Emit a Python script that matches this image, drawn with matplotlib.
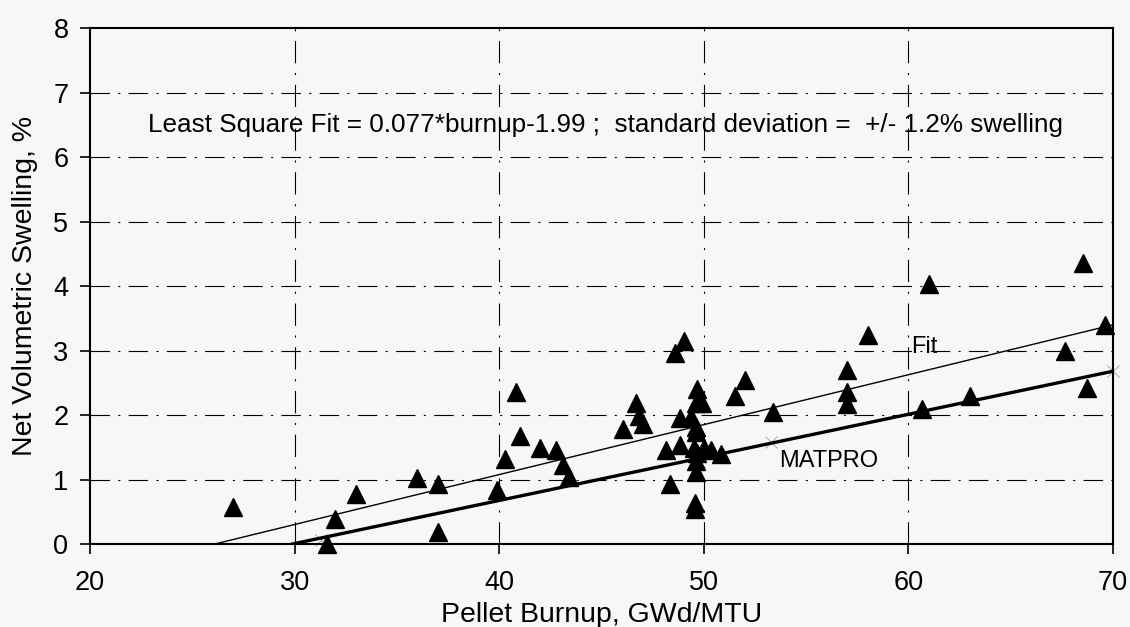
import matplotlib
matplotlib.use("Agg")
import matplotlib.pyplot as plt

plt.rcParams['font.family'] = ['Liberation Sans', 'DejaVu Sans']
plt.rcParams['lines.scale_dashes'] = False

# Measured data (burnup GWd/MTU, net volumetric swelling %)
burnup = [27.0, 31.6, 32.0, 33.0, 36.0, 37.0, 37.0, 39.9, 40.3, 40.8,
          41.0, 42.0, 42.8, 43.1, 43.4, 46.05, 46.7, 46.85, 47.05, 48.15,
          48.35, 48.6, 48.85, 48.85, 49.05, 49.35, 49.5, 49.6, 49.6, 49.6,
          49.6, 49.6, 49.55, 49.55, 49.67, 49.67, 49.92, 50.0, 50.33, 50.86,
          51.5, 52.0, 53.4, 57.0, 57.0, 57.0, 58.0, 60.65, 61.0, 63.0,
          67.63, 68.53, 68.74, 69.62]
swelling = [0.57, 0.0, 0.38, 0.78, 1.03, 0.93, 0.18, 0.83, 1.32, 2.36,
            1.68, 1.49, 1.46, 1.22, 1.04, 1.78, 2.19, 1.98, 1.86, 1.46,
            0.93, 2.96, 1.95, 1.54, 3.15, 1.97, 1.49, 2.18, 1.82, 1.74,
            1.28, 1.11, 0.64, 0.54, 2.41, 1.41, 2.19, 1.49, 1.46, 1.39,
            2.29, 2.55, 2.05, 2.70, 2.35, 2.17, 3.24, 2.09, 4.03, 2.29,
            3.00, 4.36, 2.42, 3.39]

fit_x = [26.1, 70.0]
fit_y = [0.0, 3.40]
matpro_x = [29.9, 70.0]
matpro_y = [0.0, 2.68]
mark_x = [31.3, 53.3, 70.0]
mark_y = [0.06, 1.58, 2.68]

xticks = [20, 30, 40, 50, 60, 70]
yticks = [0, 1, 2, 3, 4, 5, 6, 7, 8]

bg = '#f7f7f7'
fig = plt.figure(figsize=(11.3, 6.27), dpi=100, facecolor=bg)
ax = fig.add_axes([0.0796, 0.1324, 0.9054, 0.8226], facecolor=bg)

# grid lines
for yv in yticks[1:-1]:
    ax.axhline(yv, color='black', lw=0.8, ls=(0, (14, 6, 1.5, 6)), zorder=1)
for xv in xticks[1:-1]:
    ax.axvline(xv, color='black', lw=0.8, ls=(0, (16, 7, 1.5, 7)), zorder=1)

ax.plot(fit_x, fit_y, color='black', lw=1.0, zorder=3)
ax.plot(matpro_x, matpro_y, color='black', lw=2.4, zorder=3)
ax.plot(mark_x, mark_y, ls='none', marker='x', ms=9, mew=0.6, color='#9a9a9a',
        zorder=2, clip_on=False)
ax.plot(burnup, swelling, ls='none', marker='^', ms=12.5, color='black',
        zorder=4, clip_on=False)

ax.text(60.15, 3.05, 'Fit', fontsize=17, va='center', ha='left', zorder=5)
ax.text(53.7, 1.29, 'MATPRO', fontsize=17, va='center', ha='left', zorder=5)
ax.text(45.2, 6.5,
        'Least Square Fit = 0.077*burnup-1.99 ;  standard deviation =  +/- 1.2% swelling',
        fontsize=18.8, va='center', ha='center', zorder=5)

ax.set_xlim(20, 70)
ax.set_ylim(0, 8)
ax.set_xticks(xticks)
ax.set_yticks(yticks)
ax.tick_params(direction='out', length=7.5, width=1.2, pad=8, labelsize=19.5,
               colors='black')
ax.tick_params(axis='x', pad=11.5)
for s in ax.spines.values():
    s.set_linewidth(1.5)
    s.set_color('black')

ax.set_xlabel('Pellet Burnup, GWd/MTU', fontsize=20.5, labelpad=4)
ax.set_ylabel('Net Volumetric Swelling, %', fontsize=20.5, labelpad=11)

fig.savefig('out.png', dpi=100, facecolor=bg)
